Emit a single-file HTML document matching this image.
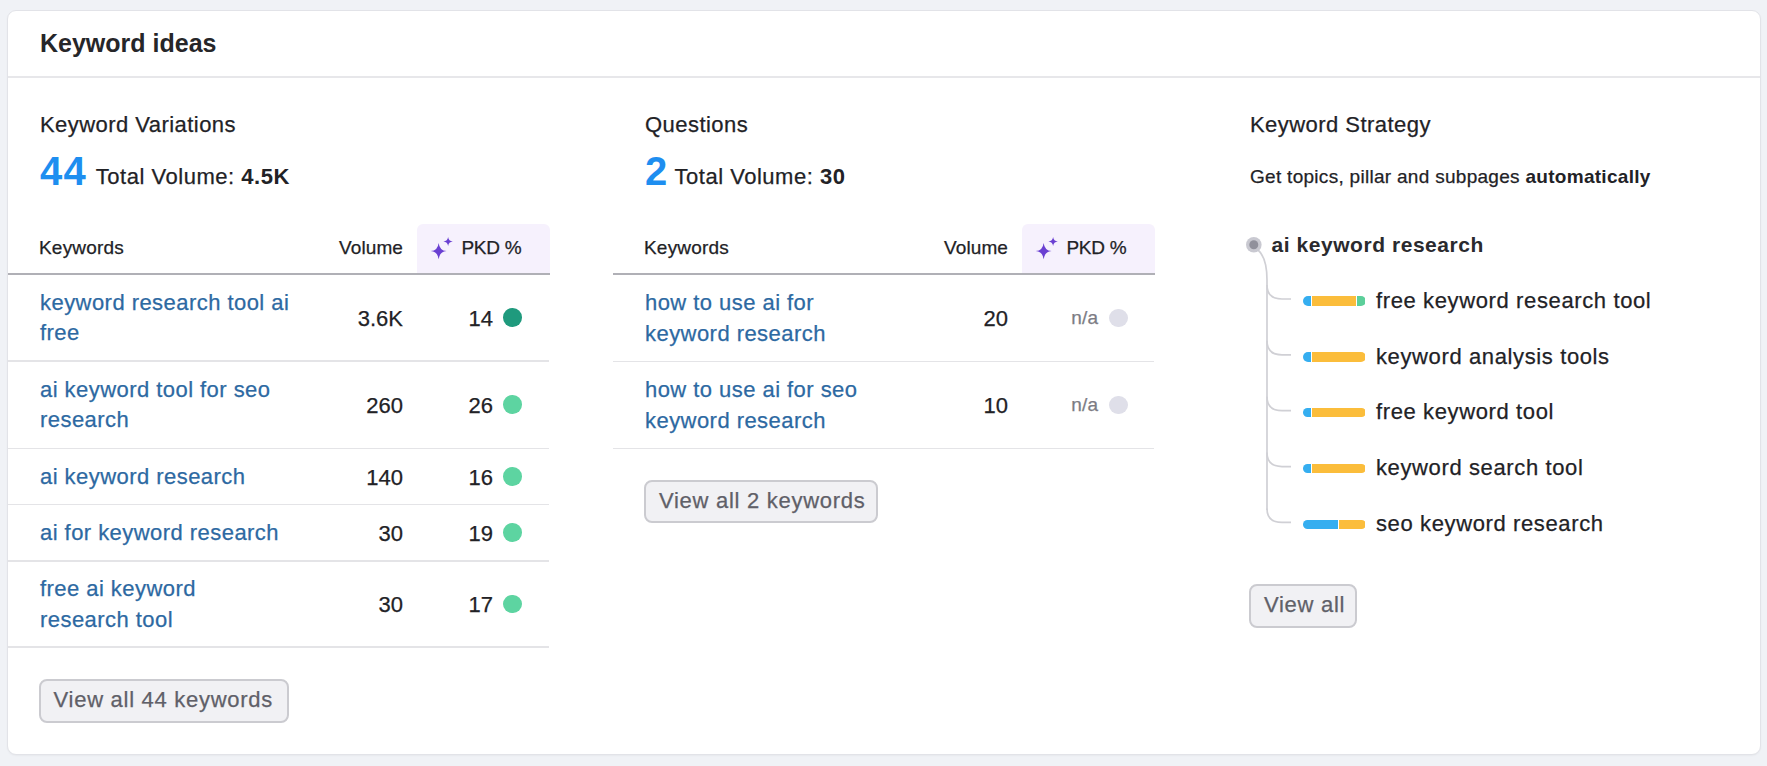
<!DOCTYPE html>
<html><head><meta charset="utf-8"><style>
html,body{margin:0;padding:0;}
body{width:1767px;height:766px;background:#f0f2f6;position:relative;overflow:hidden;font-family:"Liberation Sans",sans-serif;}
.t{position:absolute;white-space:nowrap;-webkit-text-stroke:0.25px currentColor;}
.t.bold, b{-webkit-text-stroke:0;}
.b{position:absolute;}
b{font-weight:bold;}
</style></head><body>
<div class="b" style="left:7px;top:10px;width:1754px;height:745px;background:#fff;border:1px solid #e2e3e8;border-radius:9px;box-sizing:border-box;box-shadow:0 1px 2px rgba(0,0,0,0.04);"></div>
<div class="b" style="left:8px;top:76px;width:1752px;height:2px;background:#e7e7ea;"></div>
<div class="t bold" style="left:40.00px;top:31.14px;font-size:25px;line-height:25px;font-weight:bold;color:#262629;letter-spacing:0px;">Keyword ideas</div>
<div class="t" style="left:40.00px;top:113.98px;font-size:22px;line-height:22px;font-weight:normal;color:#222226;letter-spacing:0.45px;">Keyword Variations</div>
<div class="t bold" style="left:40.00px;top:150.74px;font-size:40px;line-height:40px;font-weight:bold;color:#1e8ef0;letter-spacing:1.2px;">44</div>
<div class="t" style="left:95.80px;top:166.18px;font-size:22px;line-height:22px;font-weight:normal;color:#222226;letter-spacing:0.52px;">Total Volume: <b>4.5K</b></div>
<div class="b" style="left:417px;top:224px;width:133px;height:49px;background:#f6f1fd;border-radius:6px 6px 0 0;"></div>
<div class="t" style="left:39.00px;top:237.72px;font-size:19px;line-height:19px;font-weight:normal;color:#222226;letter-spacing:0.2px;">Keywords</div>
<div class="t" style="right:1364.00px;top:237.72px;font-size:19px;line-height:19px;font-weight:normal;color:#222226;letter-spacing:0.1px;">Volume</div>
<svg class="b" style="left:420px;top:230px" width="40" height="34" viewBox="420 230 40 34"><path d="M438.65,242.9 Q439.44,250.28 446.54999999999995,251.1 Q439.44,251.92 438.65,259.3 Q437.85999999999996,251.92 430.75,251.1 Q437.85999999999996,250.28 438.65,242.9Z" fill="#6a40d2"/><path d="M448.1,236.9 Q448.57000000000005,240.95000000000002 452.8,241.4 Q448.57000000000005,241.85 448.1,245.9 Q447.63,241.85 443.40000000000003,241.4 Q447.63,240.95000000000002 448.1,236.9Z" fill="#6a40d2"/></svg>
<div class="t" style="left:461.50px;top:237.72px;font-size:19px;line-height:19px;font-weight:normal;color:#222226;letter-spacing:-0.3px;">PKD %</div>
<div class="b" style="left:8px;top:273px;width:542px;height:2px;background:#b0b0b6;"></div>
<div class="t" style="left:40.00px;top:291.58px;font-size:22px;line-height:22px;font-weight:normal;color:#2d69a2;letter-spacing:0.45px;">keyword research tool ai</div>
<div class="t" style="left:40.00px;top:322.18px;font-size:22px;line-height:22px;font-weight:normal;color:#2d69a2;letter-spacing:0.45px;">free</div>
<div class="t" style="right:1364.00px;top:307.88px;font-size:22px;line-height:22px;font-weight:normal;color:#222226;letter-spacing:0px;">3.6K</div>
<div class="t" style="right:1274.00px;top:307.88px;font-size:22px;line-height:22px;font-weight:normal;color:#222226;letter-spacing:0px;">14</div>
<div class="b" style="left:503.2px;top:308.30px;width:18.5px;height:18.5px;border-radius:50%;background:#1f9a7d;"></div>
<div class="b" style="left:8px;top:360px;width:541px;height:1.5px;background:#e4e4e7;"></div>
<div class="t" style="left:40.00px;top:378.58px;font-size:22px;line-height:22px;font-weight:normal;color:#2d69a2;letter-spacing:0.45px;">ai keyword tool for seo</div>
<div class="t" style="left:40.00px;top:409.18px;font-size:22px;line-height:22px;font-weight:normal;color:#2d69a2;letter-spacing:0.45px;">research</div>
<div class="t" style="right:1364.00px;top:394.88px;font-size:22px;line-height:22px;font-weight:normal;color:#222226;letter-spacing:0px;">260</div>
<div class="t" style="right:1274.00px;top:394.88px;font-size:22px;line-height:22px;font-weight:normal;color:#222226;letter-spacing:0px;">26</div>
<div class="b" style="left:503.2px;top:395.30px;width:18.5px;height:18.5px;border-radius:50%;background:#5dd4a1;"></div>
<div class="b" style="left:8px;top:447.5px;width:541px;height:1.5px;background:#e4e4e7;"></div>
<div class="t" style="left:40.00px;top:465.78px;font-size:22px;line-height:22px;font-weight:normal;color:#2d69a2;letter-spacing:0.45px;">ai keyword research</div>
<div class="t" style="right:1364.00px;top:466.78px;font-size:22px;line-height:22px;font-weight:normal;color:#222226;letter-spacing:0px;">140</div>
<div class="t" style="right:1274.00px;top:466.78px;font-size:22px;line-height:22px;font-weight:normal;color:#222226;letter-spacing:0px;">16</div>
<div class="b" style="left:503.2px;top:467.20px;width:18.5px;height:18.5px;border-radius:50%;background:#5dd4a1;"></div>
<div class="b" style="left:8px;top:503.8px;width:541px;height:1.5px;background:#e4e4e7;"></div>
<div class="t" style="left:40.00px;top:522.03px;font-size:22px;line-height:22px;font-weight:normal;color:#2d69a2;letter-spacing:0.45px;">ai for keyword research</div>
<div class="t" style="right:1364.00px;top:523.03px;font-size:22px;line-height:22px;font-weight:normal;color:#222226;letter-spacing:0px;">30</div>
<div class="t" style="right:1274.00px;top:523.03px;font-size:22px;line-height:22px;font-weight:normal;color:#222226;letter-spacing:0px;">19</div>
<div class="b" style="left:503.2px;top:523.45px;width:18.5px;height:18.5px;border-radius:50%;background:#5dd4a1;"></div>
<div class="b" style="left:8px;top:560px;width:541px;height:1.5px;background:#e4e4e7;"></div>
<div class="t" style="left:40.00px;top:577.93px;font-size:22px;line-height:22px;font-weight:normal;color:#2d69a2;letter-spacing:0.45px;">free ai keyword</div>
<div class="t" style="left:40.00px;top:608.53px;font-size:22px;line-height:22px;font-weight:normal;color:#2d69a2;letter-spacing:0.45px;">research tool</div>
<div class="t" style="right:1364.00px;top:594.23px;font-size:22px;line-height:22px;font-weight:normal;color:#222226;letter-spacing:0px;">30</div>
<div class="t" style="right:1274.00px;top:594.23px;font-size:22px;line-height:22px;font-weight:normal;color:#222226;letter-spacing:0px;">17</div>
<div class="b" style="left:503.2px;top:594.65px;width:18.5px;height:18.5px;border-radius:50%;background:#5dd4a1;"></div>
<div class="b" style="left:8px;top:646.2px;width:541px;height:1.5px;background:#e4e4e7;"></div>
<div class="t" style="left:645.00px;top:113.98px;font-size:22px;line-height:22px;font-weight:normal;color:#222226;letter-spacing:0.45px;">Questions</div>
<div class="t bold" style="left:645.00px;top:150.74px;font-size:40px;line-height:40px;font-weight:bold;color:#1e8ef0;letter-spacing:1.2px;">2</div>
<div class="t" style="left:674.50px;top:166.18px;font-size:22px;line-height:22px;font-weight:normal;color:#222226;letter-spacing:0.52px;">Total Volume: <b>30</b></div>
<div class="b" style="left:1022px;top:224px;width:133px;height:49px;background:#f6f1fd;border-radius:6px 6px 0 0;"></div>
<div class="t" style="left:644.00px;top:237.72px;font-size:19px;line-height:19px;font-weight:normal;color:#222226;letter-spacing:0.2px;">Keywords</div>
<div class="t" style="right:759.00px;top:237.72px;font-size:19px;line-height:19px;font-weight:normal;color:#222226;letter-spacing:0.1px;">Volume</div>
<svg class="b" style="left:1025px;top:230px" width="40" height="34" viewBox="1025 230 40 34"><path d="M1043.65,242.9 Q1044.44,250.28 1051.5500000000002,251.1 Q1044.44,251.92 1043.65,259.3 Q1042.8600000000001,251.92 1035.75,251.1 Q1042.8600000000001,250.28 1043.65,242.9Z" fill="#6a40d2"/><path d="M1053.1,236.9 Q1053.57,240.95000000000002 1057.8,241.4 Q1053.57,241.85 1053.1,245.9 Q1052.6299999999999,241.85 1048.3999999999999,241.4 Q1052.6299999999999,240.95000000000002 1053.1,236.9Z" fill="#6a40d2"/></svg>
<div class="t" style="left:1066.50px;top:237.72px;font-size:19px;line-height:19px;font-weight:normal;color:#222226;letter-spacing:-0.3px;">PKD %</div>
<div class="b" style="left:613px;top:273px;width:542px;height:2px;background:#b0b0b6;"></div>
<div class="t" style="left:645.00px;top:291.98px;font-size:22px;line-height:22px;font-weight:normal;color:#2d69a2;letter-spacing:0.45px;">how to use ai for</div>
<div class="t" style="left:645.00px;top:322.58px;font-size:22px;line-height:22px;font-weight:normal;color:#2d69a2;letter-spacing:0.45px;">keyword research</div>
<div class="t" style="right:759.00px;top:308.28px;font-size:22px;line-height:22px;font-weight:normal;color:#222226;letter-spacing:0px;">20</div>
<div class="t" style="right:668.50px;top:308.32px;font-size:19px;line-height:19px;font-weight:normal;color:#7c7c84;letter-spacing:0.3px;">n/a</div>
<div class="b" style="left:1109.2px;top:308.70px;width:18.5px;height:18.5px;border-radius:50%;background:#dfdfe9;"></div>
<div class="b" style="left:613px;top:360.8px;width:541px;height:1.5px;background:#e4e4e7;"></div>
<div class="t" style="left:645.00px;top:379.08px;font-size:22px;line-height:22px;font-weight:normal;color:#2d69a2;letter-spacing:0.45px;">how to use ai for seo</div>
<div class="t" style="left:645.00px;top:409.68px;font-size:22px;line-height:22px;font-weight:normal;color:#2d69a2;letter-spacing:0.45px;">keyword research</div>
<div class="t" style="right:759.00px;top:395.38px;font-size:22px;line-height:22px;font-weight:normal;color:#222226;letter-spacing:0px;">10</div>
<div class="t" style="right:668.50px;top:395.42px;font-size:19px;line-height:19px;font-weight:normal;color:#7c7c84;letter-spacing:0.3px;">n/a</div>
<div class="b" style="left:1109.2px;top:395.80px;width:18.5px;height:18.5px;border-radius:50%;background:#dfdfe9;"></div>
<div class="b" style="left:613px;top:447.7px;width:541px;height:1.5px;background:#e4e4e7;"></div>
<div class="b" style="left:39px;top:679px;width:250px;height:44px;background:#f1f1f4;border:2px solid #cbcbd0;border-radius:8px;box-sizing:border-box;"></div>
<div class="t" style="left:53.60px;top:688.88px;font-size:22px;line-height:22px;font-weight:normal;color:#606068;letter-spacing:0.72px;">View all 44 keywords</div>
<div class="b" style="left:644px;top:480px;width:234px;height:42.5px;background:#f1f1f4;border:2px solid #cbcbd0;border-radius:8px;box-sizing:border-box;"></div>
<div class="t" style="left:659.00px;top:489.88px;font-size:22px;line-height:22px;font-weight:normal;color:#606068;letter-spacing:0.72px;">View all 2 keywords</div>
<div class="b" style="left:1249px;top:584px;width:108px;height:44px;background:#f1f1f4;border:2px solid #cbcbd0;border-radius:8px;box-sizing:border-box;"></div>
<div class="t" style="left:1264.00px;top:594.18px;font-size:22px;line-height:22px;font-weight:normal;color:#606068;letter-spacing:0.72px;">View all</div>
<div class="t" style="left:1250.00px;top:113.98px;font-size:22px;line-height:22px;font-weight:normal;color:#222226;letter-spacing:0.45px;">Keyword Strategy</div>
<div class="t" style="left:1250.00px;top:166.72px;font-size:19px;line-height:19px;font-weight:normal;color:#222226;letter-spacing:0.29px;">Get topics, pillar and subpages <b>automatically</b></div>
<svg class="b" style="left:0;top:0" width="1767" height="766" viewBox="0 0 1767 766"><path d="M1258 250 Q1267 258 1267 280 L1267 510" fill="none" stroke="#d0d0d5" stroke-width="1.7"/><path d="M1267 285.0 Q1267 299.0 1282 299.0 L1291 299.0" fill="none" stroke="#d0d0d5" stroke-width="1.7"/><path d="M1267 340.85 Q1267 354.85 1282 354.85 L1291 354.85" fill="none" stroke="#d0d0d5" stroke-width="1.7"/><path d="M1267 396.7 Q1267 410.7 1282 410.7 L1291 410.7" fill="none" stroke="#d0d0d5" stroke-width="1.7"/><path d="M1267 452.55 Q1267 466.55 1282 466.55 L1291 466.55" fill="none" stroke="#d0d0d5" stroke-width="1.7"/><path d="M1267 508.4 Q1267 522.4 1282 522.4 L1291 522.4" fill="none" stroke="#d0d0d5" stroke-width="1.7"/><circle cx="1253.8" cy="244.7" r="7.8" fill="#c9c9d1"/><circle cx="1253.8" cy="244.7" r="4.5" fill="#90909b"/></svg>
<div class="t bold" style="left:1271.50px;top:234.42px;font-size:21px;line-height:21px;font-weight:bold;color:#2a2a2e;letter-spacing:0.55px;">ai keyword research</div>
<div class="b" style="left:1303.2px;top:296.25px;height:9.5px;width:62.5px;border-radius:5px;overflow:hidden;display:flex;gap:1.2px;"><div style="width:8px;height:100%;background:#35aef0;flex:none"></div><div style="width:43.5px;height:100%;background:#fbbd3b;flex:none"></div><div style="width:8.2px;height:100%;background:#5ccf9a;flex:none"></div></div>
<div class="t" style="left:1376.00px;top:289.78px;font-size:22px;line-height:22px;font-weight:normal;color:#222226;letter-spacing:0.62px;">free keyword research tool</div>
<div class="b" style="left:1303.2px;top:352.1px;height:9.5px;width:62.5px;border-radius:5px;overflow:hidden;display:flex;gap:1.2px;"><div style="width:8px;height:100%;background:#35aef0;flex:none"></div><div style="width:53px;height:100%;background:#fbbd3b;flex:none"></div></div>
<div class="t" style="left:1376.00px;top:345.63px;font-size:22px;line-height:22px;font-weight:normal;color:#222226;letter-spacing:0.62px;">keyword analysis tools</div>
<div class="b" style="left:1303.2px;top:407.95px;height:9.5px;width:62.5px;border-radius:5px;overflow:hidden;display:flex;gap:1.2px;"><div style="width:8px;height:100%;background:#35aef0;flex:none"></div><div style="width:53px;height:100%;background:#fbbd3b;flex:none"></div></div>
<div class="t" style="left:1376.00px;top:401.48px;font-size:22px;line-height:22px;font-weight:normal;color:#222226;letter-spacing:0.62px;">free keyword tool</div>
<div class="b" style="left:1303.2px;top:463.8px;height:9.5px;width:62.5px;border-radius:5px;overflow:hidden;display:flex;gap:1.2px;"><div style="width:8px;height:100%;background:#35aef0;flex:none"></div><div style="width:53px;height:100%;background:#fbbd3b;flex:none"></div></div>
<div class="t" style="left:1376.00px;top:457.33px;font-size:22px;line-height:22px;font-weight:normal;color:#222226;letter-spacing:0.62px;">keyword search tool</div>
<div class="b" style="left:1303.2px;top:519.65px;height:9.5px;width:62.5px;border-radius:5px;overflow:hidden;display:flex;gap:1.2px;"><div style="width:34.6px;height:100%;background:#35aef0;flex:none"></div><div style="width:26.3px;height:100%;background:#fbbd3b;flex:none"></div></div>
<div class="t" style="left:1376.00px;top:513.18px;font-size:22px;line-height:22px;font-weight:normal;color:#222226;letter-spacing:0.62px;">seo keyword research</div>
</body></html>
